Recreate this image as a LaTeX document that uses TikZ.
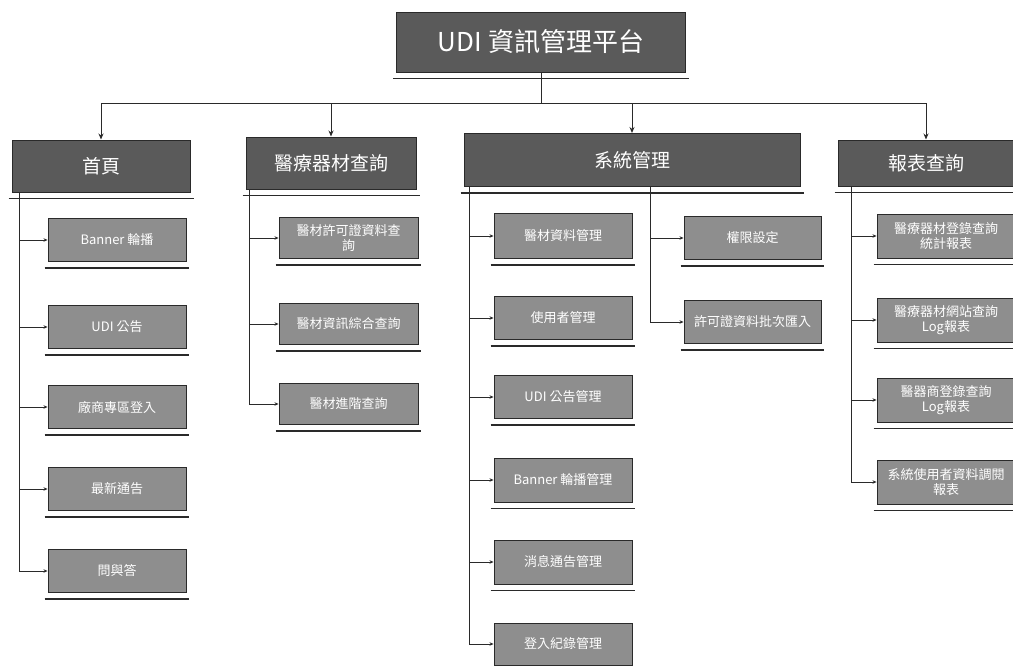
\documentclass[tikz,border=0pt]{standalone}
\usepackage{fontspec}
\setmainfont{Noto Sans CJK TC}
\usetikzlibrary{arrows.meta}
\definecolor{darkbox}{HTML}{5A5A5A}
\definecolor{lightbox}{HTML}{8E8E8E}
\definecolor{edge}{HTML}{2A2A2A}
\tikzset{
  rootbox/.style={draw=edge, line width=1pt, fill=darkbox, text=white, minimum width=289pt, minimum height=60pt, inner sep=2pt, font=\fontsize{26}{30}\selectfont},
  headbox/.style={draw=edge, line width=1pt, fill=darkbox, text=white, minimum height=52pt, inner sep=2pt, font=\fontsize{19}{22}\selectfont},
  itembox/.style={draw=edge, line width=0.9pt, fill=lightbox, text=white, minimum width=138pt, minimum height=43pt, inner sep=1pt, align=center, font=\fontsize{13}{14.5}\selectfont},
  link/.style={draw=edge, line width=1pt},
  arr/.style={link, -{Stealth[length=6pt,width=5pt]}},
  sarr/.style={link, -{Stealth[length=4pt,width=3.5pt]}},
  uline/.style={draw=edge, line width=1.2pt}
}
\begin{document}
\begin{tikzpicture}[x=1pt,y=-1pt]
\useasboundingbox (0,0) rectangle (1013,670);
\fill[white] (0,0) rectangle (1013,670);

% root
\node[rootbox] (root) at (541,42) {UDI 資訊管理平台};

% level 1
\node[headbox, minimum width=178pt] (a) at (101,166) {首頁};
\node[headbox, minimum width=170pt] (b) at (331,163) {醫療器材查詢};
\node[headbox, minimum width=336pt, minimum height=53pt] (c) at (632,160) {系統管理};
\node[headbox, minimum width=176pt, minimum height=46pt] (d) at (926,163) {報表查詢};

% 首頁 items
\node[itembox] (a1) at (117,240) {Banner 輪播};
\node[itembox] (a2) at (117,327) {UDI 公告};
\node[itembox] (a3) at (117,407) {廠商專區登入};
\node[itembox] (a4) at (117,489) {最新通告};
\node[itembox] (a5) at (117,571) {問與答};

% 醫療器材查詢 items
\node[itembox, minimum width=139pt, minimum height=41pt] (b1) at (348.5,238) {醫材許可證資料查\\詢};
\node[itembox, minimum width=139pt, minimum height=41pt] (b2) at (348.5,324) {醫材資訊綜合查詢};
\node[itembox, minimum width=139pt, minimum height=41pt] (b3) at (348.5,404) {醫材進階查詢};

% 系統管理 items
\node[itembox, minimum height=45pt] (c1) at (563,236) {醫材資料管理};
\node[itembox] (c2) at (563,318) {使用者管理};
\node[itembox] (c3) at (563,397) {UDI 公告管理};
\node[itembox, minimum height=44pt] (c4) at (563,480) {Banner 輪播管理};
\node[itembox, minimum height=44pt] (c5) at (563,562) {消息通告管理};
\node[itembox, minimum height=42pt] (c6) at (563,644) {登入紀錄管理};
\node[itembox, minimum width=137pt] (c7) at (752.5,238) {權限設定};
\node[itembox, minimum width=137pt] (c8) at (752.5,322) {許可證資料批次匯入};

% 報表查詢 items
\node[itembox, minimum width=138pt, minimum height=44pt] (d1) at (946,236) {醫療器材登錄查詢\\統計報表};
\node[itembox, minimum width=138pt, minimum height=44pt] (d2) at (946,320) {醫療器材網站查詢\\Log報表};
\node[itembox, minimum width=138pt, minimum height=44pt] (d3) at (946,400) {醫器商登錄查詢\\Log報表};
\node[itembox, minimum width=138pt, minimum height=44pt] (d4) at (946,482) {系統使用者資料調閱\\報表};

% underlines (shadow lines) under every box
\foreach \n in {root,a,b,c,d,a1,a2,a3,a4,a5,b1,b2,b3,c1,c2,c3,c4,c5,c6,c7,c8,d1,d2,d3,d4}{
  \draw[uline] ([shift={(-3,6)}]\n.south west) -- ([shift={(3,6)}]\n.south east);
}

% trunk from root
\coordinate (bus) at (541,103);
\draw[link] (root.south) -- (bus);
\foreach \n in {a,b,c,d}{
  \draw[arr] (bus) -| (\n.north);
}

% branch roots
\coordinate (aT) at ([xshift=8pt]a.south west);
\coordinate (bT) at ([xshift=4pt]b.south west);
\coordinate (cT) at ([xshift=6pt]c.south west);
\coordinate (cU) at ([xshift=187pt]c.south west);
\coordinate (dT) at ([xshift=14pt]d.south west);

\foreach \n in {a1,a2,a3,a4,a5}{ \draw[sarr] (aT) |- (\n.west); }
\foreach \n in {b1,b2,b3}{ \draw[sarr] (bT) |- (\n.west); }
\foreach \n in {c1,c2,c3,c4,c5,c6}{ \draw[sarr] (cT) |- (\n.west); }
\foreach \n in {c7,c8}{ \draw[sarr] (cU) |- (\n.west); }
\foreach \n in {d1,d2,d3,d4}{ \draw[sarr] (dT) |- (\n.west); }
\end{tikzpicture}
\end{document}
